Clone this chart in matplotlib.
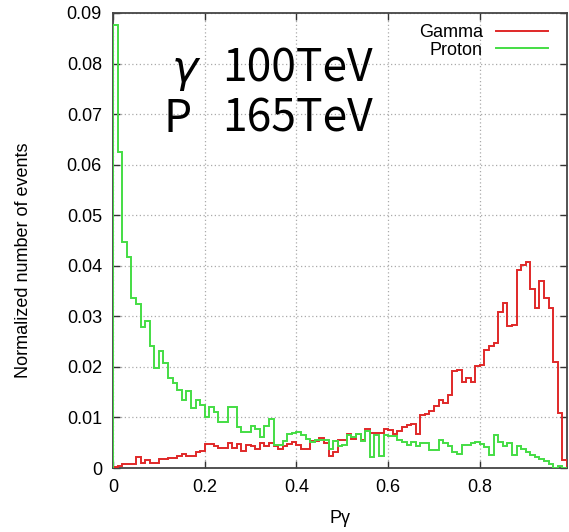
import numpy as np
import matplotlib
matplotlib.use("Agg")
import matplotlib.pyplot as plt

# 直方圖資料（每格 0.01）
bin_edges = np.round(np.arange(0, 1.0, 0.01), 2)

gamma_vals = [
    0.0001, 0.0003, 0.0007, 0.0007, 0.0007, 0.0021, 0.0009, 0.0015, 0.0010, 0.0010,
    0.0017, 0.0017, 0.0019, 0.0019, 0.0023, 0.0028, 0.0023, 0.0023, 0.0031, 0.0033,
    0.0048, 0.0048, 0.0044, 0.0040, 0.0040, 0.0050, 0.0040, 0.0048, 0.0033, 0.0045,
    0.0043, 0.0037, 0.0049, 0.0043, 0.0050, 0.0043, 0.0038, 0.0043, 0.0047, 0.0051,
    0.0046, 0.0037, 0.0037, 0.0054, 0.0054, 0.0059, 0.0050, 0.0024, 0.0031, 0.0056,
    0.0056, 0.0068, 0.0058, 0.0068, 0.0056, 0.0077, 0.0070, 0.0070, 0.0070, 0.0078,
    0.0076, 0.0068, 0.0074, 0.0082, 0.0085, 0.0087, 0.0068, 0.0105, 0.0107, 0.0112,
    0.0122, 0.0135, 0.0128, 0.0145, 0.0192, 0.0194, 0.0171, 0.0178, 0.0171, 0.0201,
    0.0204, 0.0233, 0.0241, 0.0247, 0.0309, 0.0327, 0.0280, 0.0283, 0.0391, 0.0401,
    0.0408, 0.0355, 0.0316, 0.0370, 0.0337, 0.0317, 0.0210, 0.0109, 0.0016,
]

proton_vals = [
    0.0877, 0.0625, 0.0447, 0.0417, 0.0336, 0.0324, 0.0279, 0.0290, 0.0241, 0.0197,
    0.0231, 0.0207, 0.0178, 0.0168, 0.0154, 0.0134, 0.0152, 0.0118, 0.0134, 0.0125,
    0.0100, 0.0120, 0.0110, 0.0091, 0.0091, 0.0120, 0.0120, 0.0082, 0.0071, 0.0071,
    0.0083, 0.0078, 0.0062, 0.0083, 0.0096, 0.0045, 0.0045, 0.0053, 0.0068, 0.0070,
    0.0072, 0.0065, 0.0058, 0.0052, 0.0056, 0.0056, 0.0056, 0.0037, 0.0054, 0.0044,
    0.0045, 0.0065, 0.0061, 0.0067, 0.0054, 0.0074, 0.0022, 0.0065, 0.0024, 0.0066,
    0.0063, 0.0063, 0.0056, 0.0052, 0.0046, 0.0052, 0.0043, 0.0050, 0.0050, 0.0036,
    0.0036, 0.0055, 0.0050, 0.0043, 0.0031, 0.0028, 0.0046, 0.0046, 0.0050, 0.0051,
    0.0048, 0.0041, 0.0025, 0.0065, 0.0052, 0.0044, 0.0050, 0.0025, 0.0043, 0.0037,
    0.0031, 0.0026, 0.0022, 0.0018, 0.0013, 0.0008, 0.0000, 0.0004, 0.0000,
]

x_ticks = [0, 0.2, 0.4, 0.6, 0.8]
x_tick_labels = ["0", "0.2", "0.4", "0.6", "0.8"]
y_ticks = [0, 0.01, 0.02, 0.03, 0.04, 0.05, 0.06, 0.07, 0.08, 0.09]
y_tick_labels = ["0", "0.01", "0.02", "0.03", "0.04", "0.05", "0.06", "0.07", "0.08", "0.09"]

plt.rcParams["font.family"] = ["Liberation Sans", "DejaVu Sans"]

fig = plt.figure(figsize=(5.69, 5.32), dpi=100)
ax = fig.add_axes([0.1986, 0.1203, 0.7979, 0.8553])

ax.stairs(gamma_vals, bin_edges, color="#e02828", lw=1.4, label="Gamma", zorder=3)
ax.stairs(proton_vals, bin_edges, color="#44dd44", lw=1.4, label="Proton", zorder=3)

ax.set_xlim(0, 0.99)
ax.set_ylim(0, 0.09)
ax.set_xticks(x_ticks)
ax.set_xticklabels(x_tick_labels)
ax.set_yticks(y_ticks)
ax.set_yticklabels(y_tick_labels)
ax.tick_params(direction="in", length=5, width=1, top=True, right=True,
               labelsize=13, pad=8, colors="#333333", labelcolor="black")
ax.grid(True, color="#aaaaaa", lw=0.9, linestyle=(0, (1, 2)))
for sp in ax.spines.values():
    sp.set_color("#444444")
    sp.set_linewidth(1.3)

ax.set_xlabel("Pγ", fontsize=13, labelpad=10)
ax.set_ylabel("Normalized number of events", fontsize=13)
ax.yaxis.set_label_coords(-0.178, 0.457)

ax.legend(loc="upper right", bbox_to_anchor=(0.978, 0.996), frameon=False,
          markerfirst=False, fontsize=13, handlelength=2.9, handletextpad=0.7,
          labelspacing=0.05, borderaxespad=0.2, borderpad=0.3)

# 大字標註
big = dict(fontsize=32, family=["Noto Sans CJK JP", "DejaVu Sans"], color="black")
fig.text(0.300, 0.846, r"$\gamma$", fontsize=32, color="black")
fig.text(0.390, 0.846, "100TeV", **big)
fig.text(0.287, 0.752, "P", **big)
fig.text(0.390, 0.752, "165TeV", **big)

fig.savefig("out.png", dpi=100)
